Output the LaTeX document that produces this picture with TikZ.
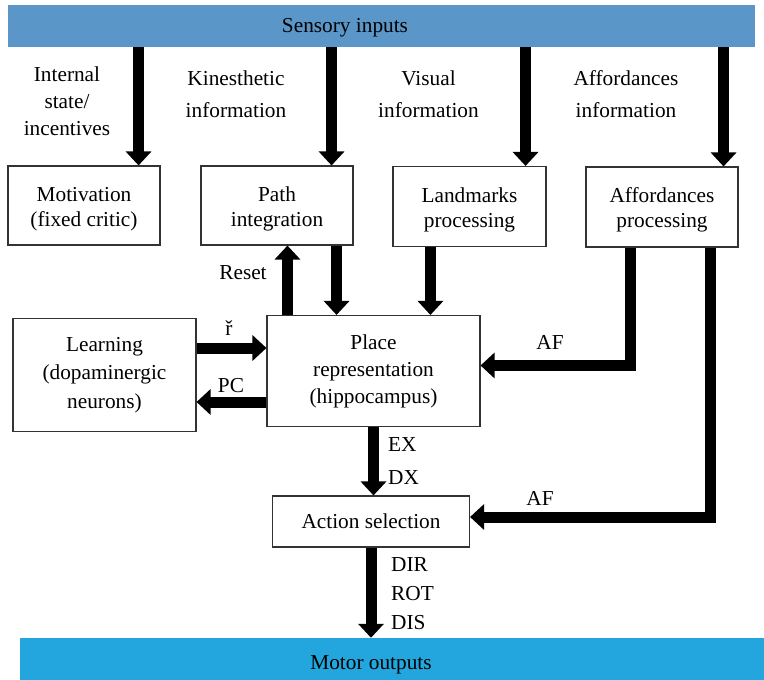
\documentclass[tikz,border=0pt]{standalone}
\usepackage{fontspec}
\setmainfont{Liberation Serif}
\usetikzlibrary{arrows.meta}
\definecolor{sensblue}{RGB}{91,150,200}
\definecolor{motorblue}{RGB}{34,166,221}
\begin{document}
\begin{tikzpicture}[x=1pt,y=-1pt,
  font=\fontsize{21.3}{27}\selectfont,
  module/.style={draw=black!80, line width=1.1pt, fill=white, align=center, inner sep=0pt},
  topmodule/.style={module, minimum width=152pt, minimum height=80pt, font=\fontsize{21.3}{25}\selectfont},
  bar/.style={inner sep=0pt, draw=none},
  flow/.style={line width=11pt, line join=miter, -{Triangle[width=25pt,length=14pt]}},
  lbl/.style={align=center, inner sep=0pt},
  tag/.style={anchor=west, inner sep=0pt},
  ]
\useasboundingbox (0,0) rectangle (764,680);

% input and output bars
\node[bar, fill=sensblue, minimum width=747pt, minimum height=42pt] (sens) at (381.5,26) {};
\node[lbl] (senstxt) at (345,28) {Sensory inputs};
\node[bar, fill=motorblue, minimum width=744pt, minimum height=42pt] (motor) at (392,659) {};
\node[lbl] (motortxt) at (371,665) {Motor outputs};

% modules
\node[topmodule, minimum height=79pt] (motiv) at (84,205.5) {\rule{0pt}{21pt}Motivation\\(fixed critic)};
\node[topmodule, minimum height=79pt] (pathint) at (277,205.5) {\rule{0pt}{21pt}Path\\integration};
\node[topmodule, minimum width=153pt] (landm) at (469.5,206.5) {\rule{0pt}{21pt}Landmarks\\processing};
\node[topmodule] (afford) at (662,207) {\rule{0pt}{21pt}Affordances\\processing};
\node[module, minimum width=183pt, minimum height=113pt, font=\fontsize{21.3}{28.5}\selectfont] (learn) at (104.5,375) {Learning\\(dopaminergic\\neurons)};
\node[module, minimum width=213pt, minimum height=111pt] (place) at (373.5,371) {Place\\representation\\(hippocampus)};
\node[module, minimum width=197pt, minimum height=51pt] (action) at (371,521.5) {Action selection};

% input labels
\node[lbl] (lint) at (67,101.5) {Internal\\state/\\incentives};
\node[lbl] (lkin) at (236,94) {Kinesthetic\\[5pt]information};
\node[lbl] (lvis) at (428.5,94) {Visual\\[5pt]information};
\node[lbl] (laff) at (626,94) {Affordances\\[5pt]information};

% arrows from sensory inputs
\coordinate (motin) at ([xshift=-22pt]motiv.north east);
\coordinate (pathin) at ([xshift=-22pt]pathint.north east);
\coordinate (landin) at ([xshift=-21pt]landm.north east);
\coordinate (affin) at ([xshift=-15pt]afford.north east);
\draw[flow] (sens.south -| motin) -- (motin);
\draw[flow] (sens.south -| pathin) -- (pathin);
\draw[flow] (sens.south -| landin) -- (landin);
\draw[flow] (sens.south -| affin) -- (affin);

% place representation links
\coordinate (reset) at ([xshift=87pt]pathint.south west);
\draw[flow] (place.north -| reset) -- (reset);
\node[lbl] (lreset) at (243,273) {Reset};
\coordinate (pathout) at ([xshift=-17pt]pathint.south east);
\draw[flow] (pathout) -- (pathout |- place.north);
\coordinate (landout) at ([xshift=38pt]landm.south west);
\draw[flow] (landout) -- (landout |- place.north);

\coordinate (afa) at ([xshift=45pt]afford.south west);
\draw[flow] (afa) |- ([yshift=5.5pt]place.east);
\node[lbl] (laf1) at (550,342) {AF};
\coordinate (afb) at ([xshift=125pt]afford.south west);
\draw[flow] (afb) |- ([yshift=4.5pt]action.east);
\node[lbl] (laf2) at (540,498) {AF};

% learning loop
\coordinate (rin) at ([yshift=27pt]learn.east);
\draw[flow] (rin) -- (rin -| place.west);
\node[lbl] (lr) at (229,328) {ř};
\coordinate (pcout) at ([yshift=-27pt]learn.east);
\draw[flow] (pcout -| place.west) -- (pcout);
\node[lbl] (lpc) at (231,386) {PC};

% towards the motor outputs
\draw[flow] (place.south) -- (place.south |- action.north);
\node[tag] (lex) at (388,445) {EX};
\node[tag] (ldx) at (388,478) {DX};
\draw[flow] (action.south) -- (action.south |- motor.north);
\node[tag] (ldir) at (391,565) {DIR};
\node[tag] (lrot) at (391,594) {ROT};
\node[tag] (ldis) at (391,623) {DIS};
\end{tikzpicture}
\end{document}
